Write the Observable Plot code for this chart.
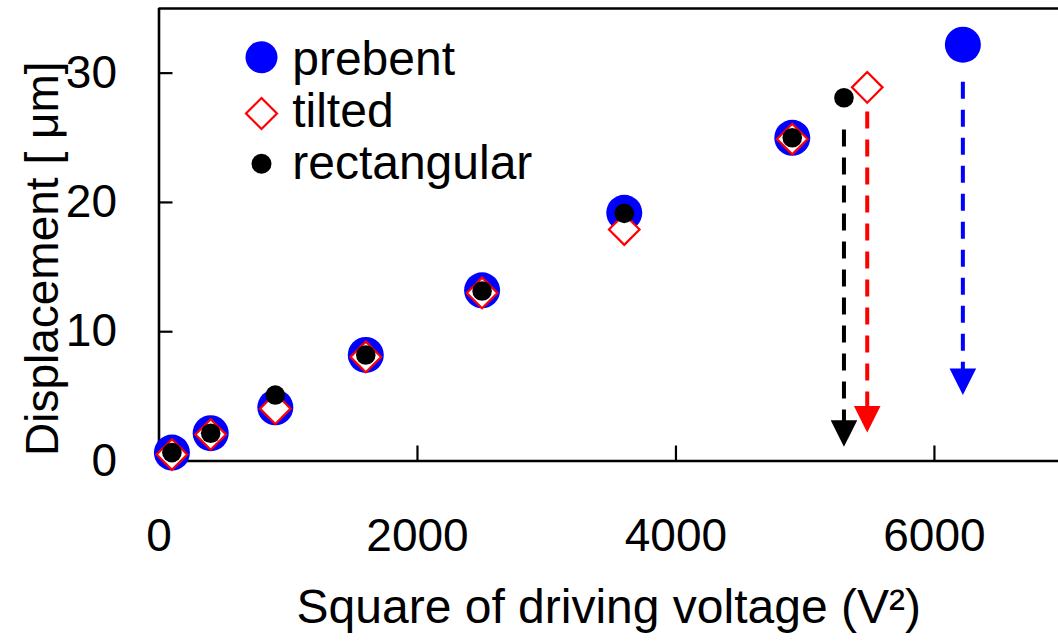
<!DOCTYPE html>
<html>
<head>
<meta charset="utf-8">
<script src="https://cdn.jsdelivr.net/npm/d3@7"></script>
<script src="https://cdn.jsdelivr.net/npm/@observablehq/plot@0.6"></script>
<style>
  html, body { margin: 0; padding: 0; background: #fff; }
  #chart { width: 1058px; height: 642px; }
</style>
</head>
<body>
<div id="chart"></div>
<script>
// Square of the driving voltage (V^2) and measured displacement (µm) per actuator type
const seriesNames = ["prebent", "tilted", "rectangular"];
const seriesColors = ["#0000ff", "#ff0000", "#000000"];

const prebentX = [100, 400, 900, 1600, 2500, 3600, 4900, 6220];
const prebentY = [0.65, 2.15, 4.15, 8.2, 13.2, 19.2, 25.0, 32.2];

const tiltedX = [100, 400, 900, 1600, 2500, 3600, 4900, 5480];
const tiltedY = [0.5, 2.05, 4.05, 8.05, 13.0, 17.9, 24.9, 28.9];

const rectangularX = [100, 400, 900, 1600, 2500, 3600, 4900, 5300];
const rectangularY = [0.65, 2.15, 5.1, 8.2, 13.15, 19.15, 25.0, 28.1];

// Pull-in drops: dashed arrows from the last stable point down to the collapsed state
const dropSeries = ["prebent", "tilted", "rectangular"];
const dropX = [6220, 5480, 5300];
const dropFrom = [29.3, 27.0, 25.6];
const dropTo = [5.1, 2.2, 1.1];

const xTicks = [0, 2000, 4000, 6000];
const yTicks = [0, 10, 20, 30];
const xDomain = [0, 6960];
const yDomain = [0, 35];

const xTitle = "Square of driving voltage (V²)";
const yTitle = "Displacement [ μm]";

// Build tidy tables for the marks
const toRows = (name, xs, ys) => xs.map((x, i) => ({series: name, x, y: ys[i]}));
const prebent = toRows("prebent", prebentX, prebentY);
const tilted = toRows("tilted", tiltedX, tiltedY);
const rectangular = toRows("rectangular", rectangularX, rectangularY);
const drops = dropSeries.map((s, i) => ({
  series: s, x: dropX[i], from: dropFrom[i], to: dropTo[i],
  color: seriesColors[seriesNames.indexOf(s)]
}));

// Custom symbols: a square rotated 45° and a downward arrowhead with its tip at the anchor
const squareDiamond = {
  draw(ctx, size) {
    const h = Math.sqrt(size / Math.PI);
    ctx.moveTo(0, -h); ctx.lineTo(h, 0); ctx.lineTo(0, h); ctx.lineTo(-h, 0); ctx.closePath();
  }
};
const arrowHead = {
  draw(ctx, size) {
    const h = Math.sqrt(size / Math.PI);
    ctx.moveTo(-h, -2 * h); ctx.lineTo(h, -2 * h); ctx.lineTo(0, 0); ctx.closePath();
  }
};

const W = 1058, H = 642;
const mL = 158.5, mR = 0, mT = 8, mB = 181.5;
const frameW = W - mL - mR, frameH = H - mT - mB;
const axisStroke = 2.6;

// Legend rows (pixel offsets from the top-left corner of the frame)
const legendSymbols = [
  {symbol: "circle", r: 16, fill: seriesColors[0], stroke: "none", strokeWidth: 0},
  {symbol: squareDiamond, r: 15.5, fill: "white", stroke: seriesColors[1], strokeWidth: 2.2},
  {symbol: "circle", r: 10, fill: seriesColors[2], stroke: "none", strokeWidth: 0}
];
const legendMarkerDy = [48.7, 105, 155.3];
const legendTextDy = [66.3, 118.7, 170.3];
const legendMarks = seriesNames.flatMap((name, i) => [
  Plot.dot([name], {
    frameAnchor: "top-left", dx: 102.5, dy: legendMarkerDy[i],
    ...legendSymbols[i]
  }),
  Plot.text([name], {
    frameAnchor: "top-left", dx: 133.2, dy: legendTextDy[i],
    text: d => d, textAnchor: "start", lineAnchor: "bottom",
    fontSize: 48, fill: "black"
  })
]);

const chart = Plot.plot({
  width: W,
  height: H,
  marginLeft: mL,
  marginRight: mR,
  marginTop: mT,
  marginBottom: mB,
  style: {fontFamily: "'Liberation Sans', Arial, sans-serif", background: "white", color: "black", overflow: "visible"},
  x: {domain: xDomain},
  y: {domain: yDomain},
  marks: [
    // axis labels
    Plot.axisX({ticks: xTicks, tickFormat: d3.format("d"), tickSize: 0, tickPadding: 57, fontSize: 46, label: null}),
    Plot.axisY({ticks: yTicks, tickFormat: d3.format("d"), tickSize: 0, tickPadding: 42, fontSize: 46, label: null}),
    // inward ticks
    Plot.tickX(xTicks, {x: d => d, insetTop: frameH - 15, stroke: "black", strokeWidth: 2.2}),
    Plot.tickY(yTicks, {y: d => d, insetRight: frameW - 14, stroke: "black", strokeWidth: 2.2}),
    // frame: left, bottom and top edges
    Plot.ruleX([xDomain[0]], {stroke: "black", strokeWidth: axisStroke}),
    Plot.ruleY([yDomain[0]], {stroke: "black", strokeWidth: axisStroke}),
    Plot.ruleY([yDomain[1]], {stroke: "black", strokeWidth: axisStroke}),
    // axis titles
    Plot.text([xTitle], {frameAnchor: "bottom", dy: 162, lineAnchor: "bottom", textAnchor: "middle", text: d => d, fontSize: 48, fill: "black"}),
    Plot.text([yTitle], {frameAnchor: "left", rotate: -90, dx: -101.5, dy: 24, lineAnchor: "bottom", textAnchor: "middle", text: d => d, fontSize: 46, fill: "black"}),
    // pull-in drops
    Plot.ruleX(drops, {x: "x", y1: "from", y2: "to", stroke: "color", strokeWidth: 4, strokeDasharray: "17,11", insetBottom: 20}),
    Plot.dot(drops, {x: "x", y: "to", symbol: arrowHead, r: 13.3, fill: "color", stroke: "none"}),
    // measurements
    Plot.dot(prebent, {x: "x", y: "y", r: 18, fill: seriesColors[0], stroke: "none"}),
    Plot.dot(tilted, {x: "x", y: "y", symbol: squareDiamond, r: 15.3, fill: "white", stroke: seriesColors[1], strokeWidth: 2.2}),
    Plot.dot(rectangular, {x: "x", y: "y", r: 9.8, fill: seriesColors[2], stroke: "none"}),
    ...legendMarks
  ]
});

document.getElementById("chart").appendChild(chart);
</script>
</body>
</html>
